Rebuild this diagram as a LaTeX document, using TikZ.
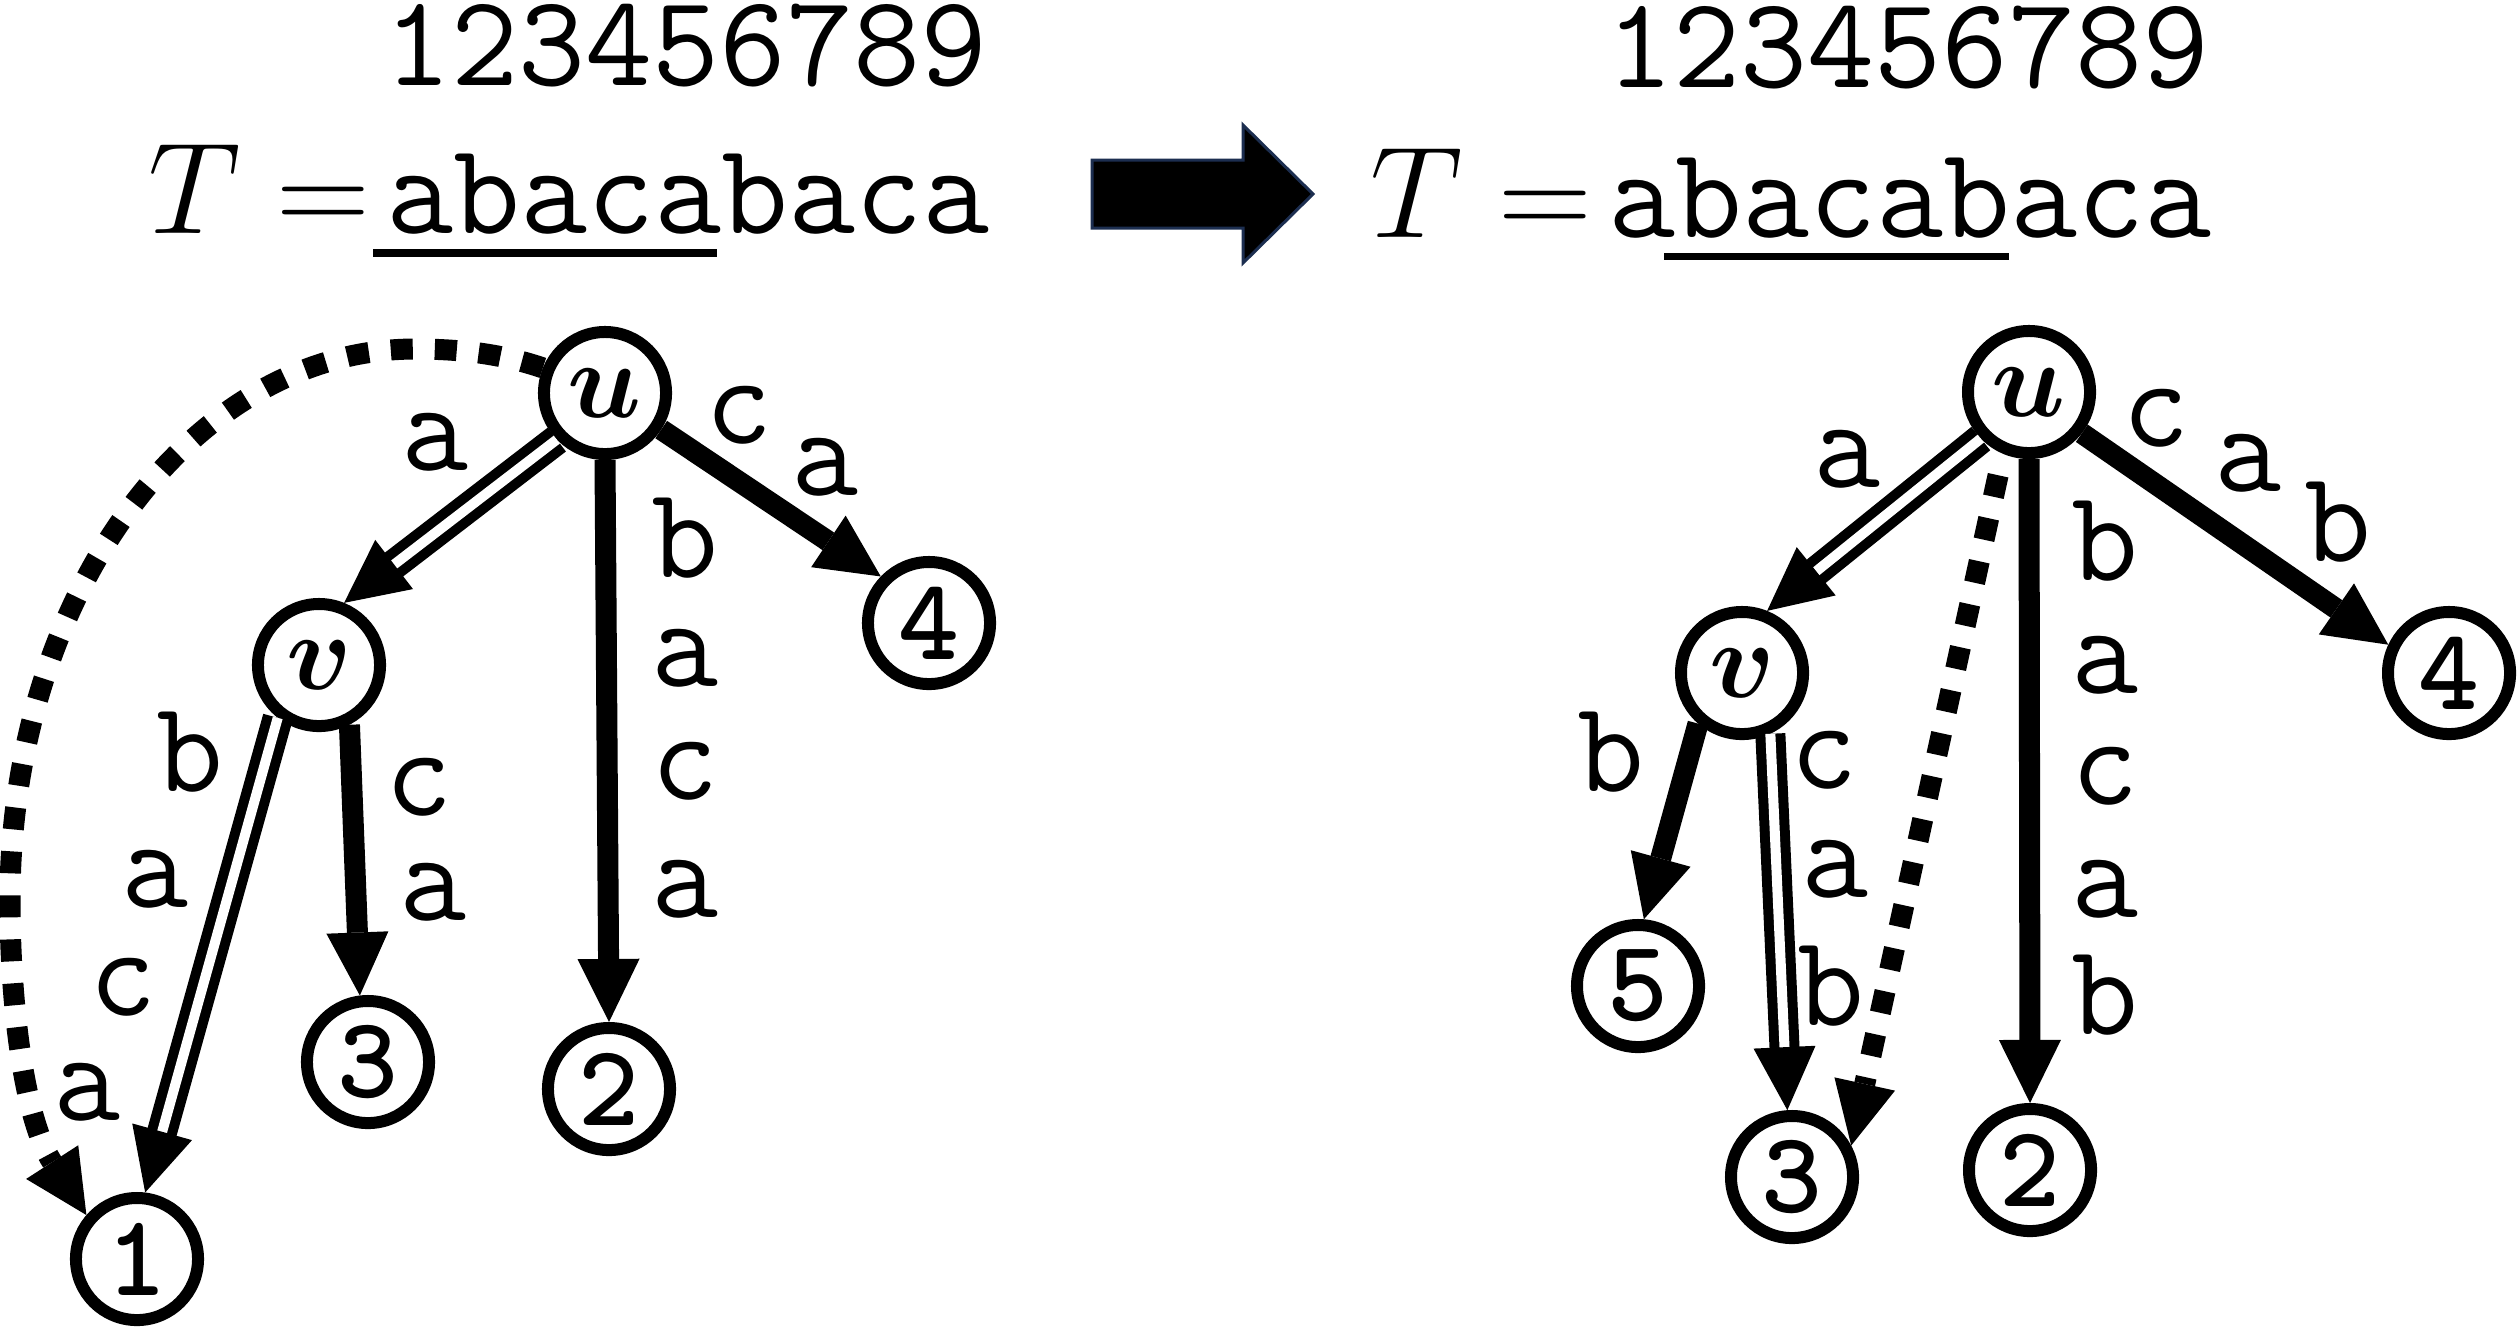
\RequirePackage{fix-cm}
\documentclass[tikz,border=0pt]{standalone}
\usepackage{amsmath}
\usepackage{fontspec}
\usetikzlibrary{arrows.meta}
\definecolor{navy}{HTML}{1C2E50}
\begin{document}
\begin{tikzpicture}[x=0.01cm,y=-0.01cm,
  vert/.style={circle,draw,line width=0.12cm,minimum size=1.22cm,inner sep=0pt,font=\fontsize{31}{36}\selectfont},
  leaf/.style={vert,font=\fontsize{33}{38}\selectfont\ttfamily\bfseries},
  lab/.style={anchor=base,inner sep=0pt,font=\fontsize{37}{44}\selectfont\ttfamily},
  mathlab/.style={anchor=base,inner sep=0pt,font=\fontsize{37}{44}\selectfont},
  uline/.style={line width=0.08cm},
  headtip/.style={-{Triangle[length=0.63cm,width=0.62cm,line width=0pt]}},
  thickedge/.style={line width=0.21cm,headtip},
  dbledge/.style={line width=0.1cm,double=white,double distance=0.1cm,shorten >=0.45cm},
  dbltip/.style={draw=white,line width=0.3pt,-{Triangle[length=0.63cm,width=0.62cm,line width=0pt,color=black,fill=black]}},
  dotedge/.style={line width=0.21cm,dash pattern=on 0.22cm off 0.22cm,headtip},
]
\useasboundingbox (0,0) rectangle (2519,1329);

% ---------- headers ----------
\node[lab] (numL) at (686,85) {123456789};
\node[lab] (strL) at (688,233) {abacabaca};
\node[mathlab] (TL) at (195,233) {$T$};
\node[mathlab] (eqL) at (323,233) {$=$};
\draw[uline] (373,253) -- (717,253);

\node[lab] (numR) at (1908,87) {123456789};
\node[lab] (strR) at (1910,237) {abacabaca};
\node[mathlab] (TR) at (1417,237) {$T$};
\node[mathlab] (eqR) at (1545,237) {$=$};
\draw[uline,line width=0.07cm] (1664,256) -- (2009,256);

% ---------- big arrow ----------
\draw[fill=black,draw=navy,line width=0.03cm,line join=miter]
  (1092,160) -- (1243,160) -- (1243,125) -- (1313,194) -- (1243,263) -- (1243,228) -- (1092,228) -- cycle;

% ---------- left tree ----------
\node[vert] (u)  at (605,393)  {$\boldsymbol{u}$};
\node[vert] (v)  at (319,665)  {$\boldsymbol{v}$};
\node[leaf] (n4) at (929,623)  {4};
\node[leaf] (n3) at (368,1062) {3};
\node[leaf] (n2) at (609,1089) {2};
\node[leaf] (n1) at (137,1259) {1};

\draw[thickedge] (u.270) -- (n2.90);
\draw[thickedge] (u.327) -- (n4.136);
\draw[thickedge] (v.297) -- (n3.97);
\draw[dbledge] (u.224) -- (v.68);
\draw[dbltip]  (u.224) -- (v.68);
\draw[dbledge] (v.232) -- (n1.83);
\draw[dbltip]  (v.232) -- (n1.83);
\draw[dotedge] (u.158) .. controls (505,355) and (465,349) .. (415,349)
  .. controls (191,349) and (10,596) .. (10,900)
  .. controls (10,1010) and (25,1120) .. (n1.139);

\node[lab] (la1) at (435,470) {a};
\node[lab] (lc4) at (739,443) {c};
\node[lab] (la4) at (825,495) {a};
\node[lab] (lb2) at (685,577) {b};
\node[lab] (la2) at (685,686) {a};
\node[lab] (lc2) at (685,799) {c};
\node[lab] (lx2) at (685,917) {a};
\node[lab] (lb1) at (190,791) {b};
\node[lab] (la1b) at (155,907) {a};
\node[lab] (lc1) at (123,1015) {c};
\node[lab] (lx1) at (87,1120) {a};
\node[lab] (lc3) at (419,815) {c};
\node[lab] (la3) at (433,920) {a};

% ---------- right tree ----------
\node[vert] (U)  at (2029,392) {$\boldsymbol{u}$};
\node[vert] (V)  at (1742,673) {$\boldsymbol{v}$};
\node[leaf] (N4) at (2449,673)  {4};
\node[leaf] (N5) at (1638,986)  {5};
\node[leaf] (N3) at (1792,1177) {3};
\node[leaf] (N2) at (2030,1170) {2};

\draw[thickedge] (U.270) -- (N2.90);
\draw[thickedge] (U.322) -- (N4.155);
\draw[thickedge] (V.229) -- (N5.85);
\draw[dbledge] (U.224) -- (V.68);
\draw[dbltip]  (U.224) -- (V.68);
\draw[dbledge] (V.295) -- (N3.94);
\draw[dbltip]  (V.295) -- (N3.94);
\draw[dotedge,dash phase=0.22cm] (U.247) -- (N3.28);

\node[lab] (Ra1) at (1847,487) {a};
\node[lab] (Rc4) at (2156,446) {c};
\node[lab] (Ra4) at (2248,491) {a};
\node[lab] (Rb4) at (2338,561) {b};
\node[lab] (Rb2) at (2105,580) {b};
\node[lab] (Ra2) at (2105,693) {a};
\node[lab] (Rc2) at (2105,804) {c};
\node[lab] (Rx2) at (2105,917) {a};
\node[lab] (Ry2) at (2105,1034) {b};
\node[lab] (Rb5) at (1611,791) {b};
\node[lab] (Rc3) at (1824,788) {c};
\node[lab] (Ra3) at (1835,897) {a};
\node[lab] (Rb3) at (1831,1025) {b};
\end{tikzpicture}
\end{document}
